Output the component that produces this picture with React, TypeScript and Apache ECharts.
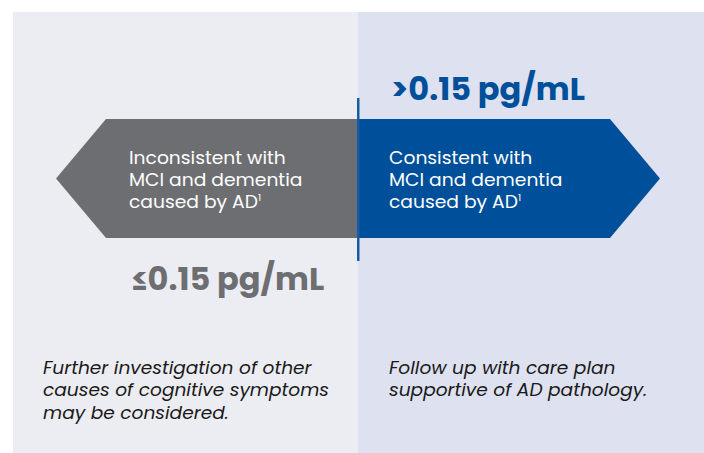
import React, { useEffect, useRef } from "react";
import * as echarts from "echarts";

const thresholdLabels = ["≤0.15 pg/mL", ">0.15 pg/mL"];
const arrowLines = [
  ["Inconsistent with", "MCI and dementia", "caused by AD{sup|1}"],
  ["Consistent with", "MCI and dementia", "caused by AD{sup|1}"],
];
const noteLines = [
  ["Further investigation of other", "causes of cognitive symptoms", "may be considered."],
  ["Follow up with care plan", "supportive of AD pathology."],
];
const colors = {
  leftBg: "#ECEDF2",
  rightBg: "#DEE1EF",
  gray: "#6D6E71",
  blue: "#004F9A",
  line: "#1A5BA6",
  note: "#1A1A1A",
};

const FONT = "Poppins, 'Open Sans', Lato, sans-serif";

export default function App() {
  const ref = useRef<HTMLDivElement>(null);
  useEffect(() => {
    if (!ref.current) return;
    const chart = echarts.init(ref.current, null, { renderer: "svg" });
    const W = 704;
    const H = 453;
    const midX = 358;
    const top = 119;
    const bot = 238;
    const cy = (top + bot) / 2;
    const elements: any[] = [];
    elements.push({ type: "rect", shape: { x: 13, y: 12, width: midX - 13, height: H - 12 }, style: { fill: colors.leftBg } });
    elements.push({ type: "rect", shape: { x: midX, y: 12, width: W - midX, height: H - 12 }, style: { fill: colors.rightBg } });
    elements.push({
      type: "polygon",
      shape: { points: [[midX, top], [106, top], [56, cy], [106, bot], [midX, bot]] },
      style: { fill: colors.gray },
    });
    elements.push({
      type: "polygon",
      shape: { points: [[midX, top], [610, top], [660, cy], [610, bot], [midX, bot]] },
      style: { fill: colors.blue },
    });
    elements.push({
      type: "rect",
      shape: { x: 357, y: 98, width: 2.5, height: 163 },
      style: { fill: colors.line },
    });
    const lineY = [158, 180, 202];
    const arrowX = [129, 389];
    arrowLines.forEach((lines, i) => {
      lines.forEach((t, j) => {
        elements.push({
          type: "text",
          x: arrowX[i],
          y: lineY[j],
          scaleX: 1.1,
          style: {
            text: t,
            fill: "#FFFFFF",
            fontSize: 17,
            fontFamily: FONT,
            verticalAlign: "middle",
            align: "left",
            rich: { sup: { fontSize: 9, verticalAlign: "top", fill: "#FFFFFF", fontFamily: FONT } },
          },
        });
      });
    });
    elements.push({
      type: "text",
      x: 131,
      y: 278,
      style: { text: thresholdLabels[0], fill: colors.gray, fontSize: 32, fontWeight: "bold", fontFamily: FONT, verticalAlign: "middle" },
    });
    elements.push({
      type: "text",
      x: 391,
      y: 88,
      style: { text: thresholdLabels[1], fill: colors.blue, fontSize: 32, fontWeight: "bold", fontFamily: FONT, verticalAlign: "middle" },
    });
    const noteY = [368, 390, 413];
    const noteX = [43, 389];
    noteLines.forEach((lines, i) => {
      lines.forEach((t, j) => {
        elements.push({
          type: "text",
          x: noteX[i],
          y: noteY[j],
          scaleX: 1.094,
          style: { text: t, fill: colors.note, fontSize: 17, fontStyle: "italic", fontFamily: FONT, verticalAlign: "middle" },
        });
      });
    });
    chart.setOption({ animation: false, graphic: { elements } });
    return () => chart.dispose();
  }, []);
  return <div ref={ref} style={{ position: "fixed", left: 0, top: 0, width: 704, height: 453, background: "#FFFFFF" }} />;
}
